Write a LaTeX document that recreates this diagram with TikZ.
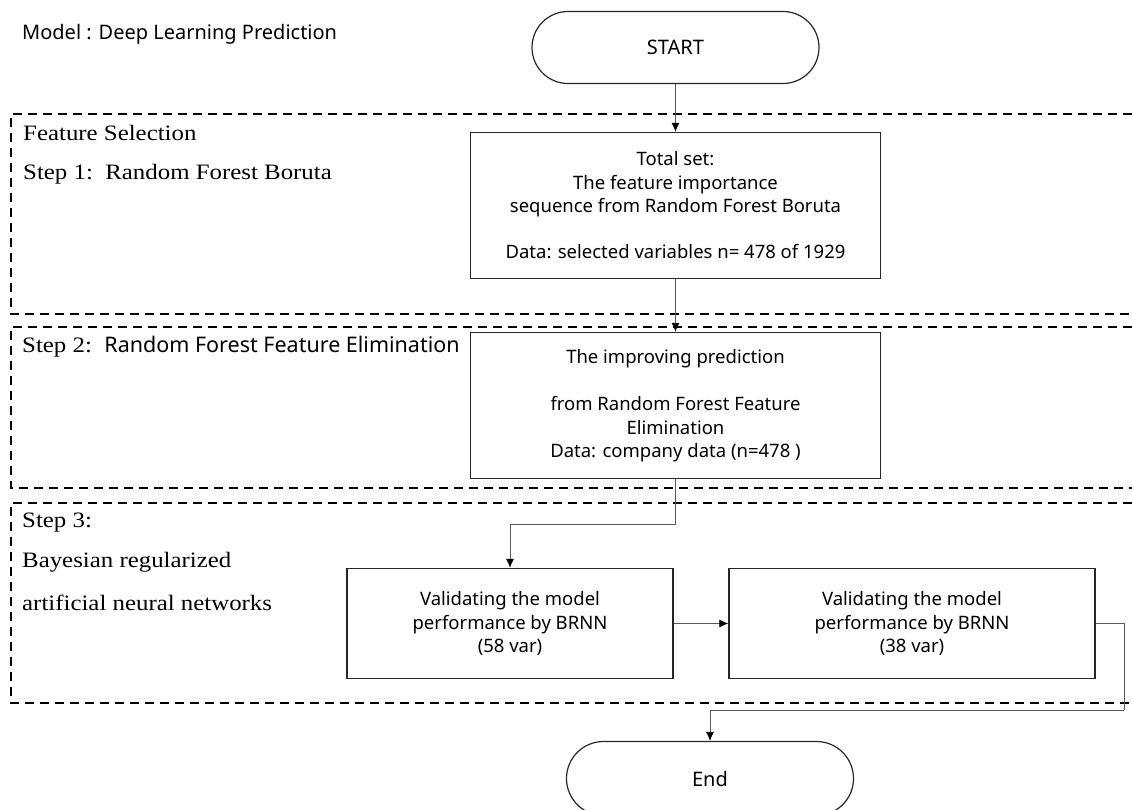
\documentclass[tikz,border=0pt]{standalone}
\usepackage{fontspec}
\setmainfont{Liberation Serif}[FakeStretch=1.13]
\newfontfamily\gothic{Noto Sans}
\usetikzlibrary{shapes.geometric, arrows.meta}
\tikzstyle{startstop} = [rectangle, rounded corners=36pt, minimum width=287pt, minimum height=72pt, text centered, draw=black!85, line width=1.2pt, font=\gothic\fontsize{20}{24}\selectfont]
\tikzstyle{process} = [rectangle, minimum width=410pt, minimum height=146pt, text centered, align=center, draw=black!85, line width=1.4pt, font=\gothic\fontsize{18.5}{23.5}\selectfont]
\tikzstyle{arrow} = [line width=0.8pt, black!65, -{Latex[length=9pt,width=8pt,black]}]
\tikzstyle{stage} = [line width=2.5pt, dash pattern=on 9pt off 6pt]
\tikzstyle{steptext} = [anchor=west, inner sep=0pt, font=\fontsize{22}{26}\selectfont]

\begin{document}
\begin{tikzpicture}[x=1pt, y=-1pt, node distance=160pt]
\useasboundingbox (0,0) rectangle (1132,810);

% dashed stages, open to the right
\draw [stage] (1132,114) -- (11,114) -- (11,314) -- (1132,314);
\draw [stage] (1132,327) -- (11,327) -- (11,488) -- (1132,488);
\draw [stage] (1132,503) -- (11,503) -- (11,703) -- (1132,703);

\node (title) [steptext, font=\gothic\fontsize{20}{24}\selectfont] at (22,34) {Model : Deep Learning Prediction};
\node (fsel) [steptext] at (23,133) {Feature Selection};
\node (step1) [steptext] at (23,174) {Step 1:\ \ Random Forest Boruta};
\node (step2) [steptext] at (22,347) {Step 2:\ \ {\gothic\fontsize{21.5}{26}\selectfont Random Forest Feature Elimination}};
\node (step3) [steptext] at (22,523) {Step 3:};
\node (bay1) [steptext] at (22,562) {Bayesian regularized};
\node (bay2) [steptext] at (22,603) {artificial neural networks};

\node (start) [startstop] at (675.5,47.5) {START};
\node (pro1) [process, below of=start, yshift=2pt] {Total set:\\The feature importance\\sequence from Random Forest Boruta\\[22.5pt]Data: selected variables n= 478 of 1929};
\node (pro2) [process, below of=pro1, yshift=-40pt] {The improving prediction\\[24pt]from Random Forest Feature\\Elimination\\Data: company data (n=478 )};
\node (pro3) [process, below of=pro2, xshift=-165.5pt, yshift=-58pt, minimum width=326pt, minimum height=110pt] {Validating the model\\performance by BRNN\\(58 var)};
\node (pro4) [process, right of=pro3, xshift=242pt, minimum width=366pt, minimum height=110pt] {Validating the model\\performance by BRNN\\(38 var)};
\node (stop) [startstop, below of=pro4, xshift=-202pt, yshift=5pt, minimum height=74pt, rounded corners=37pt] {End};
\node (meet1) [coordinate, below of=pro2, yshift=41.5pt] {};
\node (meet2) [coordinate, right of=pro4, xshift=52pt, yshift=-86.5pt] {};

\draw [arrow] (start) -- (pro1);
\draw [arrow] (pro1) -- (pro2);
\draw [line width=0.8pt, black!65] (pro2) -- (meet1);
\draw [arrow] (meet1) -| (pro3);
\draw [arrow] (pro3) -- (pro4);
\draw [line width=0.8pt, black!65] (pro4) -| (meet2);
\draw [arrow] (meet2) -| (stop);

\end{tikzpicture}
\end{document}
